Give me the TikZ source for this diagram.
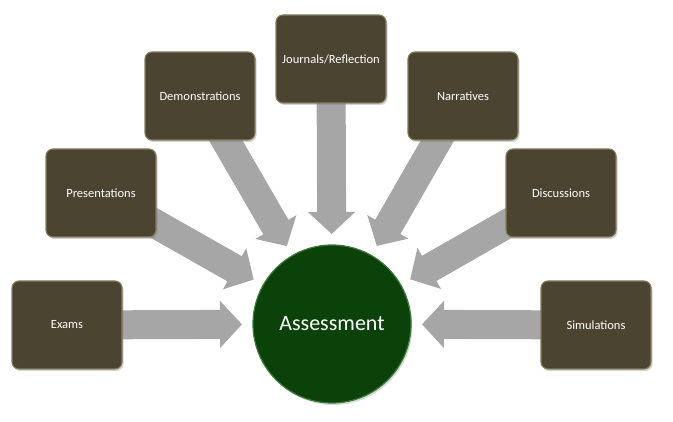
\documentclass[tikz,border=0pt]{standalone}
\usepackage{fontspec}
\setmainfont{Carlito}
\usetikzlibrary{arrows.meta,shadows,backgrounds}
\definecolor{boxfill}{HTML}{4B4431}
\definecolor{boxedge}{HTML}{857C5E}
\definecolor{circfill}{HTML}{0A420A}
\definecolor{circedge}{HTML}{3C7A3C}
\definecolor{arrowgray}{HTML}{A6A6A6}
\tikzset{
  itembox/.style={rectangle, rounded corners=7pt, minimum width=110pt, minimum height=88pt,
    fill=boxfill, draw=boxedge, line width=1.1pt, text=white, font=\fontsize{12.5}{15}\selectfont,
    drop shadow={opacity=0.35, shadow xshift=1.5pt, shadow yshift=-2pt}},
  centre/.style={circle, minimum size=158pt, fill=circfill, draw=circedge, line width=1.2pt,
    text=white, font=\fontsize{22}{26}\selectfont,
    drop shadow={opacity=0.3, shadow xshift=1.5pt, shadow yshift=-2pt}},
  bigarrow/.style={draw=arrowgray, line width=29pt, shorten >=90pt,
    -{Triangle[width=46pt,length=22pt,fill=arrowgray]}}
}
\begin{document}
\begin{tikzpicture}[x=1pt,y=-1pt]
\useasboundingbox (0,0) rectangle (673,422);
\node[centre] (assess) at (332,324) {Assessment};
\node[itembox] (exams) at (67,325) {Exams};
\node[itembox] (pres) at (101,193) {Presentations};
\node[itembox] (demo) at (200,96) {Demonstrations};
\node[itembox] (journ) at (331,59) {Journals/Reflection};
\node[itembox] (narr) at (463,96) {Narratives};
\node[itembox] (disc) at (561,193) {Discussions};
\node[itembox] (sim) at (596,325) {Simulations};
\begin{scope}[on background layer]
\foreach \n in {exams,pres,demo,journ,narr,disc,sim}
  \draw[bigarrow] (\n.center) -- (assess.center);
\end{scope}
\end{tikzpicture}
\end{document}
